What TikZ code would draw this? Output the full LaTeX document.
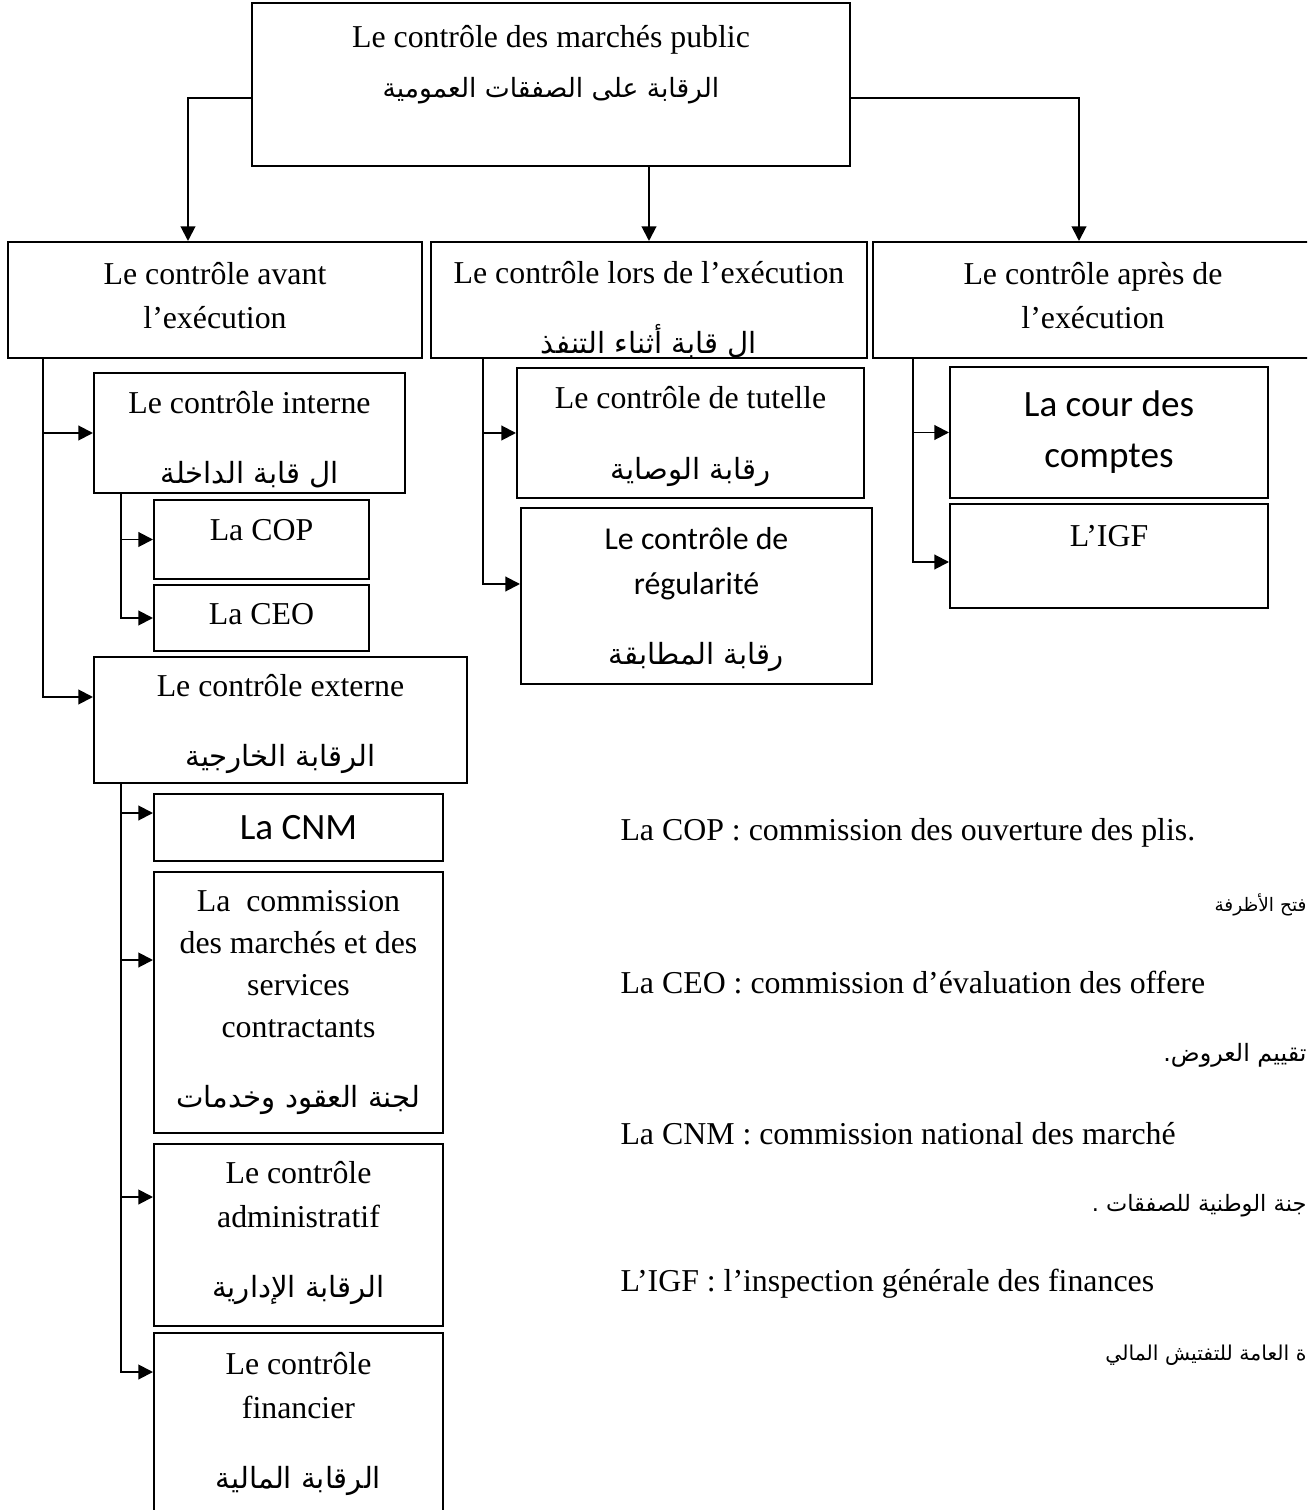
\documentclass[tikz,border=0pt]{standalone}
\usepackage{fontspec}
\setmainfont{Liberation Serif}
\newfontfamily\calfont{Carlito}
\newfontfamily\arfont[Script=Arabic]{DejaVu Sans}
\TeXXeTstate=1
\usetikzlibrary{arrows.meta,calc}
\newcommand{\artxt}[2][11]{{\arfont\fontsize{#1}{16.6}\selectfont\beginR #2\endR}}
\tikzset{
  box/.style={draw, line width=0.75pt, anchor=north west, align=center,
    inner sep=0pt, font=\fontsize{12}{16.6}\selectfont},
  wd/.style={minimum width=#1*0.377pt},
  ht/.style={minimum height=#1*0.377pt},
  link/.style={line width=0.75pt, -{Triangle[length=5.5pt,width=5.5pt]}},
  note/.style={inner sep=0pt, font=\fontsize{12}{14}\selectfont},
}

\begin{document}
\begin{tikzpicture}[x=0.377pt, y=-0.377pt]
\useasboundingbox (0,0) rectangle (1307,1510);
\clip (0,0) rectangle (1307,1510);
%
\node[box, wd=598, ht=163, text depth=17.5pt] (marches) at (251,2)
  {Le contrôle des marchés public\\[2.5pt]\artxt[10]{الرقابة على الصفقات العمومية}};
%
\node[box, wd=414, ht=116, text depth=3.5pt] (avant) at (7,241) {Le contrôle avant\\l’exécution};
\node[box, wd=436, ht=116, text depth=0pt] (lors) at (430,241)
  {\rule{0pt}{14pt}Le contrôle lors de l’exécution\\[10pt]\artxt{ال قابة أثناء التنفذ}};
\node[box, wd=440, ht=116, text depth=3.5pt] (apres) at (872,241) {Le contrôle après de\\l’exécution};
%
\node[box, wd=311, ht=120, text depth=0pt] (interne) at (93,372)
  {\rule{0pt}{12pt}Le contrôle interne\\[9.8pt]\artxt{ال قابة الداخلة}};
\node[box, wd=215, ht=79, text depth=7pt] (cop) at (153,499) {La COP};
\node[box, wd=215, ht=66, text depth=3pt] (ceo) at (153,584) {La CEO};
\node[box, wd=373, ht=126, text depth=-1.5pt] (externe) at (93,656)
  {Le contrôle externe\\[9.8pt]\artxt{الرقابة الخارجية}};
\node[box, wd=289, ht=67, font=\calfont\fontsize{14}{17}\selectfont] (cnm) at (153,793) {La CNM};
\node[box, wd=289, ht=261, font=\fontsize{12}{15.8}\selectfont] (commission) at (153,871)
  {La\ \ commission\\des marchés et des\\services\\contractants\\[10.6pt]\artxt{لجنة العقود وخدمات}};
\node[box, wd=289, ht=182, text depth=4pt] (admin) at (153,1143)
  {Le contrôle\\administratif\\[9.8pt]\artxt{الرقابة الإدارية}};
\node[box, wd=289, ht=182, text depth=3pt] (financier) at (153,1332)
  {Le contrôle\\financier\\[9.8pt]\artxt{الرقابة المالية}};
%
\node[box, wd=347, ht=130, text depth=0pt] (tutelle) at (516,367)
  {Le contrôle de tutelle\\[10pt]\artxt{رقابة الوصاية}};
\node[box, wd=351, ht=176, text depth=0pt, font=\calfont\fontsize{12}{17}\selectfont] (regul) at (520,507)
  {Le contrôle de\\régularité\\[9.4pt]\artxt{رقابة المطابقة}};
%
\node[box, wd=318, ht=131, font=\calfont\fontsize{14}{19.2}\selectfont] (cour) at (949,366)
  {La cour des\\comptes};
\node[box, wd=318, ht=104, text depth=15pt] (igf) at (949,503) {L’IGF};
%
\draw[link] ($(marches.west)+(0,14)$) -| ($(avant.north)+(-27,0)$);
\draw[link] (marches.south -| lors.north) -- (lors.north);
\draw[link] ($(marches.east)+(0,14)$) -| ($(apres.north)+(-14,0)$);
%
\draw[link] ($(avant.south west)+(36,0)$) |- (interne.west);
\draw[link] ($(avant.south west)+(36,0)$) |- ($(externe.west)+(0,-23)$);
\draw[link] ($(interne.south west)+(28,0)$) |- (cop.west);
\draw[link] ($(interne.south west)+(28,0)$) |- (ceo.west);
\draw[link] ($(externe.south west)+(28,0)$) |- ($(cnm.north west)+(0,20)$);
\draw[link] ($(externe.south west)+(28,0)$) |- ($(commission.north west)+(0,89)$);
\draw[link] ($(externe.south west)+(28,0)$) |- ($(admin.north west)+(0,54)$);
\draw[link] ($(externe.south west)+(28,0)$) |- ($(financier.north west)+(0,40)$);
%
\draw[link] ($(lors.south west)+(53,0)$) |- (tutelle.west);
\draw[link] ($(lors.south west)+(53,0)$) |- ($(regul.west)+(0,-12)$);
\draw[link] ($(apres.south west)+(41,0)$) |- (cour.west);
\draw[link] ($(apres.south west)+(41,0)$) |- ($(igf.west)+(0,6)$);
%
\node[note, anchor=west] (ncop) at (620,833) {La COP : commission des ouverture des plis.};
\node[note, anchor=east] (acop) at (1307,905) {\artxt[7]{فتح الأظرفة}};
\node[note, anchor=west] (nceo) at (620,983) {La CEO : commission d’évaluation des offere};
\node[note, anchor=east] (aceo) at (1307,1055) {\artxt[9]{تقييم العروض.}};
\node[note, anchor=west] (ncnm) at (620,1134) {La CNM : commission national des marché};
\node[note, anchor=east] (acnm) at (1307,1206) {\artxt[8.5]{جنة الوطنية للصفقات .}};
\node[note, anchor=west] (nigf) at (620,1284) {L’IGF : l’inspection générale des finances};
\node[note, anchor=east] (aigf) at (1307,1355) {\artxt[7.7]{ة العامة للتفتيش المالي}};
\end{tikzpicture}
\end{document}
